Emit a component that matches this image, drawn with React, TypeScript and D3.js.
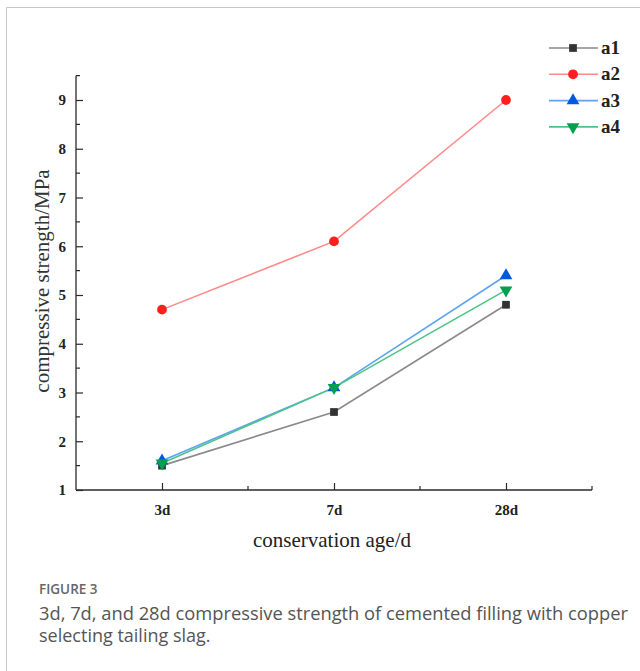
import React, { useEffect, useRef } from "react";
import * as d3 from "d3";

const ages = ["3d", "7d", "28d"];
const seriesNames = ["a1", "a2", "a3", "a4"];
const a1 = [1.5, 2.6, 4.8];
const a2 = [4.7, 6.1, 9.0];
const a3 = [1.6, 3.1, 5.4];
const a4 = [1.55, 3.1, 5.1];
const yTicks = [1, 2, 3, 4, 5, 6, 7, 8, 9];

const lineColors = ["#8a8a8a", "#ff8a8a", "#5ea3ef", "#4cc488"];
const markerColors = ["#333333", "#ff1f1f", "#0058e0", "#00a050"];
const markerTypes = [d3.symbolSquare, d3.symbolCircle, d3.symbolTriangle, d3.symbolTriangle];

const App = () => {
  const svgRef = useRef(null);

  useEffect(() => {
    document.body.style.margin = "0";
    const svg = d3.select(svgRef.current);
    svg.selectAll("*").remove();

    const W = 640;
    const H = 671;
    svg.attr("width", W).attr("height", H).style("background", "#fff");

    // frame
    svg.append("path")
      .attr("d", `M6.5,${H} L6.5,7.5 L${W},7.5`)
      .attr("fill", "none")
      .attr("stroke", "#c8c8c8");

    const serif = "'Liberation Serif', 'Times New Roman', serif";
    const x = d3.scalePoint().domain(ages).range([76, 592]).padding(0.5);
    const y = d3.scaleLinear().domain([1, 9]).range([490, 100]);
    const yTop = y(9.5);

    const g = svg.append("g");

    // axes
    const xAxis = d3.axisBottom(x).tickSize(-7).tickPadding(14).tickSizeOuter(0);
    const gx = g.append("g").attr("transform", "translate(0,490)").call(xAxis);
    gx.select(".domain").attr("d", `M76,0H592`).attr("stroke", "#2a2a2a").attr("stroke-width", 1.3);
    gx.selectAll(".tick line").attr("stroke", "#2a2a2a").attr("stroke-width", 1.2);
    gx.selectAll(".tick text")
      .attr("font-family", serif).attr("font-size", 15).attr("font-weight", "bold").attr("fill", "#222");
    // minor x ticks and end tick
    const step = x.step();
    [x(ages[0])! + step / 2, x(ages[1])! + step / 2, 592].forEach((v) => {
      g.append("line").attr("x1", v).attr("x2", v).attr("y1", 490).attr("y2", 486)
        .attr("stroke", "#2a2a2a").attr("stroke-width", 1.2);
    });

    const yAxis = d3.axisLeft(y).tickValues(yTicks).tickFormat(d3.format("d"))
      .tickSize(-7).tickPadding(10).tickSizeOuter(0);
    const gy = g.append("g").attr("transform", "translate(76,0)").call(yAxis);
    gy.select(".domain").attr("d", `M0,${yTop}V490`).attr("stroke", "#2a2a2a").attr("stroke-width", 1.3);
    gy.selectAll(".tick line").attr("stroke", "#2a2a2a").attr("stroke-width", 1.2);
    gy.selectAll(".tick text")
      .attr("font-family", serif).attr("font-size", 15).attr("font-weight", "bold").attr("fill", "#222");
    d3.range(1.5, 9.6, 1).forEach((v) => {
      g.append("line").attr("x1", 76).attr("x2", 80).attr("y1", y(v)).attr("y2", y(v))
        .attr("stroke", "#2a2a2a").attr("stroke-width", 1.2);
    });

    // axis titles
    g.append("text")
      .attr("x", 332).attr("y", 547).attr("text-anchor", "middle")
      .attr("font-family", serif).attr("font-size", 21).attr("fill", "#222")
      .text("conservation age/d");
    g.append("text")
      .attr("transform", "translate(49,281) rotate(-90)").attr("text-anchor", "middle")
      .attr("font-family", serif).attr("font-size", 21).attr("fill", "#333")
      .text("compressive strength/MPa");

    // series
    const data = [a1, a2, a3, a4];
    const line = d3.line<number>().x((_, i) => x(ages[i])!).y((d) => y(d));
    data.forEach((vals, s) => {
      g.append("path").attr("d", line(vals)).attr("fill", "none")
        .attr("stroke", lineColors[s]).attr("stroke-width", 1.6);
    });
    const sym = (s: number) =>
      d3.symbol().type(markerTypes[s]).size(s === 1 ? 75 : s === 0 ? 60 : 70)();
    data.forEach((vals, s) => {
      vals.forEach((v, i) => {
        g.append("path").attr("d", sym(s))
          .attr("transform", `translate(${x(ages[i])},${y(v)})${s === 3 ? " rotate(180)" : ""}`)
          .attr("fill", markerColors[s]);
      });
    });

    // legend
    const leg = g.append("g");
    seriesNames.forEach((name, s) => {
      const ly = 48 + s * 26.3;
      leg.append("line").attr("x1", 549).attr("x2", 598).attr("y1", ly).attr("y2", ly)
        .attr("stroke", lineColors[s]).attr("stroke-width", 1.6);
      leg.append("path").attr("d", sym(s))
        .attr("transform", `translate(573,${ly})${s === 3 ? " rotate(180)" : ""}`)
        .attr("fill", markerColors[s]);
      leg.append("text").attr("x", 601).attr("y", ly + 6)
        .attr("font-family", serif).attr("font-size", 19).attr("font-weight", "bold").attr("fill", "#222")
        .text(name);
    });

    // caption
    const sans = "'Open Sans', 'Noto Sans', sans-serif";
    svg.append("text").attr("x", 39).attr("y", 594)
      .attr("font-family", sans).attr("font-size", 13.5).attr("font-weight", 600).attr("fill", "#666")
      .text("FIGURE 3");
    svg.append("text").attr("x", 39).attr("y", 620)
      .attr("font-family", sans).attr("font-size", 18).attr("fill", "#555")
      .attr("textLength", 589).attr("lengthAdjust", "spacingAndGlyphs")
      .text("3d, 7d, and 28d compressive strength of cemented filling with copper");
    svg.append("text").attr("x", 39).attr("y", 642)
      .attr("font-family", sans).attr("font-size", 18).attr("fill", "#555")
      .text("selecting tailing slag.");
  }, []);

  return <svg ref={svgRef} style={{ display: "block" }}></svg>;
};

export default App;
